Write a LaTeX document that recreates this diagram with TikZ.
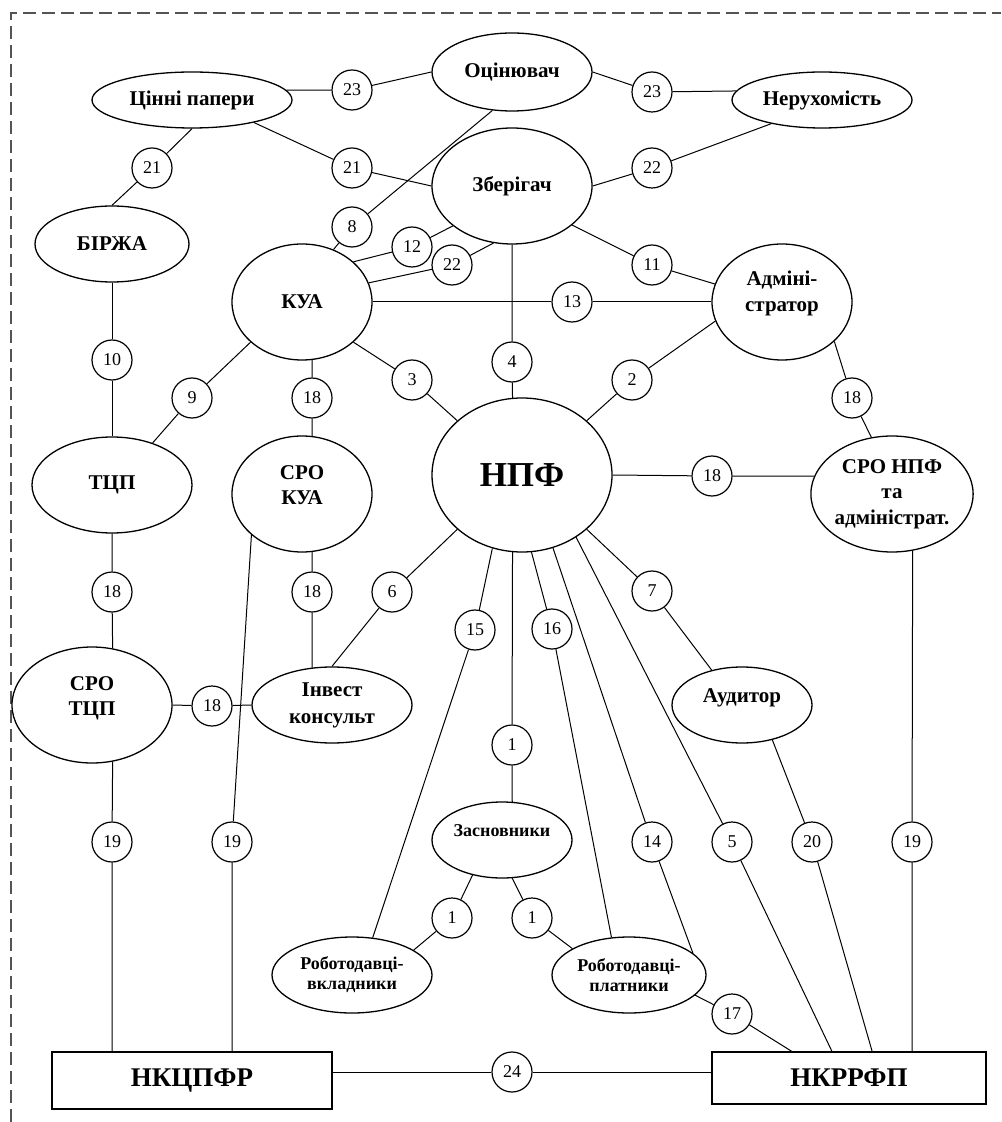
\documentclass[tikz,border=0pt]{standalone}
\usepackage{fontspec}
\setmainfont{Liberation Serif}
\usetikzlibrary{shapes.geometric}
\usetikzlibrary{calc}
\definecolor{framegray}{rgb}{0.33,0.33,0.33}

\begin{document}
\begin{tikzpicture}[x=0.5pt,y=-0.5pt,
	every node/.style={font=\bfseries\fontsize{10.5}{12.8}\selectfont, align=center},
	ell/.style 2 args={draw, ellipse, line width=0.65pt, inner sep=0pt, minimum width=#1pt, minimum height=#2pt},
	box/.style 2 args={draw, rectangle, line width=0.65pt, inner sep=0pt, minimum width=#1pt, minimum height=#2pt, font=\bfseries\fontsize{13.5}{15}\selectfont},
	num/.style={draw, circle, line width=0.6pt, minimum size=20pt, inner sep=0pt, font=\fontsize{9}{10}\selectfont},
	smalltext/.style={font=\bfseries\fontsize{9}{10}\selectfont},
	link/.style={line width=0.5pt}]
			\useasboundingbox (0,0) rectangle (1001,1122);
			\draw[framegray, line width=0.6pt, dash pattern=on 6.5pt off 3pt] (11,1122) -- (11,13) -- (1001,13);

			% participants
			\node[ell={80}{39}] (otsin) at (512,72) {Оцінювач};
			\node[ell={100}{28}] (papery) at (192,100) {Цінні папери};
			\node[ell={90}{28}] (neruh) at (822,100) {Нерухомість};
			\node[ell={80}{58}] (zber) at (512,186) {Зберігач};
			\node[ell={77}{38}] (birzha) at (112,244) {БІРЖА};
			\node[ell={70}{58}] (kua) at (302,302) {КУА};
			\node[ell={70}{58}, text depth=11pt] (admin) at (782,302) {Адміні-\\стратор};
			\node[ell={80}{48}] (tcp) at (112,485) {ТЦП};
			\node[ell={70}{58}, text depth=9pt] (srokua) at (302,494) {СРО\\КУА};
			\node[ell={90}{77}, font=\bfseries\fontsize{17.5}{20}\selectfont] (npf) at (522,475) {НПФ};
			\node[ell={80}{58}] (sronpf) at (892,494) {СРО НПФ\\та\\адміністрат.};
			\node[ell={80}{58}, text depth=9pt] (srotcp) at (92,705) {СРО\\ТЦП};
			\node[ell={80}{38}, font=\bfseries\fontsize{10.5}{13.5}\selectfont] (invest) at (332,705) {Інвест\\консульт};
			\node[ell={70}{38}, text depth=9pt] (audytor) at (742,705) {Аудитор};
			\node[ell={70}{38}, smalltext, text depth=9pt] (zasn) at (502,840) {Засновники};
			\node[ell={80}{38}, smalltext] (vklad) at (352,975) {Роботодавці-\\вкладники};
			\node[ell={77}{38}, smalltext] (platn) at (629,975) {Роботодавці-\\платники};
			\node[box={140}{28.5}] (nkc) at (192,1080.5) {НКЦПФР};
			\node[box={137}{26}] (nkr) at (849,1078) {НКРРФП};

			% numbered links
			\foreach \n/\x/\y/\t in {c23a/352/90/23, c23b/652/92/23, c21a/152/168/21, c21b/352/168/21,
				c22a/652/168/22, c8/352/227/8, c12/412/247/12, c22b/452/265/22, c11/652/265/11,
				c13/572/302/13, c4/512/362/4, c3/412/380/3, c2/632/380/2, c10/112/360/10,
				c9/192/398/9, c18a/312/398/18, c18b/852/398/18, c18c/712/476/18, c18d/112/592/18,
				c18e/312/592/18, c6/392/592/6, c15/475/630/15, c16/552/629/16, c7/652/591/7,
				c18f/212/706/18, c1a/512/745/1, c19a/112/842/19, c19b/232/842/19, c14/652/842/14,
				c5/732/842/5, c20/812/842/20, c19c/912/842/19, c1b/452/918/1, c1c/532/918/1,
				c17/732/1014/17, c24/512/1072/24}
			{
				\node[num] (\n) at (\x,\y) {\t};
			}

			\draw[link] (papery.6) -- (c23a) -- (otsin.west);
			\draw[link] (otsin.east) -- (c23b) -- (neruh.174);
			\draw[link] (papery.south) -- (c21a) -- (birzha.north);
			\draw[link] (papery.-20) -- (c21b) -- (zber.west);
			\draw[link] (neruh.-155) -- (c22a) -- (zber.east);
			\draw[link] (otsin.-117) -- (c8) -- (kua.59);
			\draw[link] (kua.38) -- (c12) -- (zber.-146);
			\draw[link] (kua.16) -- (c22b) -- (zber.-108);
			\draw[link] (zber.-33) -- (c11) -- (admin.165);
			\draw[link] (kua.east) -- (c13) -- (admin.west);
			\draw[link] (zber.south) -- (c4) -- (npf.97);
			\draw[link] (kua.-38) -- (c3) -- (npf.140);
			\draw[link] (admin.-164) -- (c2) -- (npf.40);
			\draw[link] (admin.-37) -- (c18b) -- (sronpf.110);
			\draw[link] (npf.east) -- (c18c) -- (sronpf.167);
			\draw[link] (birzha.south) -- (c10) -- (tcp.north);
			\draw[link] (kua.-142) -- (c9) -- (tcp.46);
			\draw[link] (kua.-80) -- (c18a) -- (srokua.80);
			\draw[link] (tcp.south) -- (c18d) -- (srotcp.70);
			\draw[link] (srokua.-80) -- (c18e) -- (invest.118);
			\draw[link] (npf.-140) -- (c6) -- (invest.north);
			\draw[link] (srotcp.east) -- (c18f) -- (invest.west);
			\draw[link] (srokua.-141) -- (c19b) -- ($(nkc.north west)!0.643!(nkc.north east)$);
			\draw[link] (srotcp.-70) -- (c19a) -- (c19a |- nkc.north);
			\draw[link] (npf.-112) -- (c15) -- (vklad.61);
			\draw[link] (npf.-97) -- (c1a) -- (zasn.75);
			\draw[link] (npf.-83) -- (c16) -- (platn.115);
			\draw[link] (npf.-67) -- (c14) -- (platn.19);
			\draw[link] (npf.-49) -- (c5) -- ($(nkr.north west)!0.438!(nkr.north east)$);
			\draw[link] (npf.-40) -- (c7) -- (audytor.131);
			\draw[link] (audytor.-49) -- (c20) -- ($(nkr.north west)!0.584!(nkr.north east)$);
			\draw[link] (sronpf.-70) -- (c19c) -- (c19c |- nkr.north);
			\draw[link] (zasn.-130) -- (c1b) -- (vklad.22);
			\draw[link] (zasn.-75) -- (c1c) -- (platn.155);
			\draw[link] (platn.-17) -- (c17) -- ($(nkr.north west)!0.292!(nkr.north east)$);
			\draw[link] (c24 -| nkc.east) -- (c24) -- (c24 -| nkr.west);
\end{tikzpicture}
\end{document}
